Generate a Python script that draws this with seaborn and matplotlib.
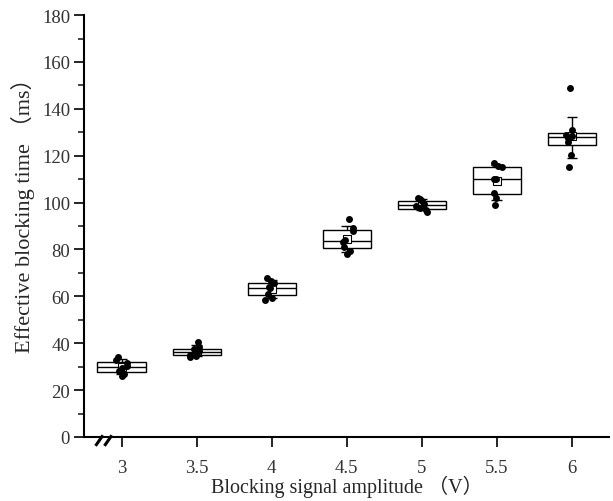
import numpy as np
import pandas as pd
import matplotlib
matplotlib.use("Agg")
import matplotlib.pyplot as plt
import seaborn as sns

amplitudes = ["3", "3.5", "4", "4.5", "5", "5.5", "6"]
v3 = [26, 27, 28, 29.5, 30.5, 31.5, 33, 34]
v3_5 = [34, 34.5, 35, 36, 36.5, 37.5, 38.5, 40.5]
v4 = [58.5, 59.5, 61, 63.5, 64, 65.5, 66.5, 68]
v4_5 = [78, 79.5, 81, 83, 84, 88, 89, 93]
v5 = [96, 97, 97.5, 98.5, 99.5, 100.5, 101.5, 102]
v5_5 = [99, 102, 104, 110, 110, 115, 115.5, 117]
v6 = [115, 120.5, 126, 127.5, 128.5, 129, 131, 149]
groups = [v3, v3_5, v4, v4_5, v5, v5_5, v6]

rows = []
for a, vals in zip(amplitudes, groups):
    for v in vals:
        rows.append({"amp": a, "time": v})
df = pd.DataFrame(rows)

sns.set_style("ticks")
plt.rcParams["font.family"] = ["Liberation Serif", "Noto Sans CJK SC", "DejaVu Sans"]

fig = plt.figure(figsize=(6.13, 5.02), dpi=100)
ax = fig.add_axes([0.137, 0.1275, 0.857, 0.8405])

sns.boxplot(data=df, x="amp", y="time", order=amplitudes, ax=ax,
            width=0.64, whis=(10, 90), showfliers=False, showmeans=True,
            color="white", linecolor="black", linewidth=1.0,
            whiskerprops=dict(linewidth=0), capprops=dict(linewidth=0),
            meanprops=dict(marker="s", markerfacecolor="white",
                           markeredgecolor="black", markersize=6,
                           markeredgewidth=0.8))

# Origin-style percentile whiskers (10th-90th, not snapped to data)
for i, vals in enumerate(groups):
    q1, q3 = np.percentile(vals, [25, 75])
    lo, hi = np.percentile(vals, [10, 90])
    ax.vlines(i, q3, hi, color="black", lw=1.0, zorder=2)
    ax.vlines(i, lo, q1, color="black", lw=1.0, zorder=2)
    ax.hlines([lo, hi], i - 0.07, i + 0.07, color="black", lw=1.0, zorder=2)

np.random.seed(3)
sns.stripplot(data=df, x="amp", y="time", order=amplitudes, ax=ax,
              color="black", size=5, jitter=0.09, zorder=3)

ax.set_xlim(-0.5, 6.5)
ax.set_ylim(0, 180)
ax.set_yticks(np.arange(0, 181, 20))
ax.set_yticks(np.arange(0, 181, 10), minor=True)
ax.tick_params(axis="both", which="major", direction="out", length=7,
               width=1.2, labelsize=13.5, colors="black", labelcolor="#333333")
ax.tick_params(axis="y", which="minor", direction="out", length=4, width=1.2)
ax.tick_params(axis="y", pad=3)
ax.tick_params(axis="x", pad=9)
for s in ["top", "right"]:
    ax.spines[s].set_visible(False)
for s in ["left", "bottom"]:
    ax.spines[s].set_linewidth(1.5)
    ax.spines[s].set_color("black")

ax.set_xlabel("Blocking signal amplitude （V）", fontsize=14.5, labelpad=-1)
ax.set_ylabel("Effective blocking time （ms）", fontsize=16)
ax.yaxis.set_label_coords(-0.093, 0.54)

# axis break mark
trans = ax.transAxes
for x0 in (0.022, 0.039):
    ax.plot([x0, x0 + 0.014], [-0.021, 0.004], transform=trans,
            color="black", lw=2.2, clip_on=False, solid_capstyle="butt")

fig.savefig("out.png", dpi=100)
